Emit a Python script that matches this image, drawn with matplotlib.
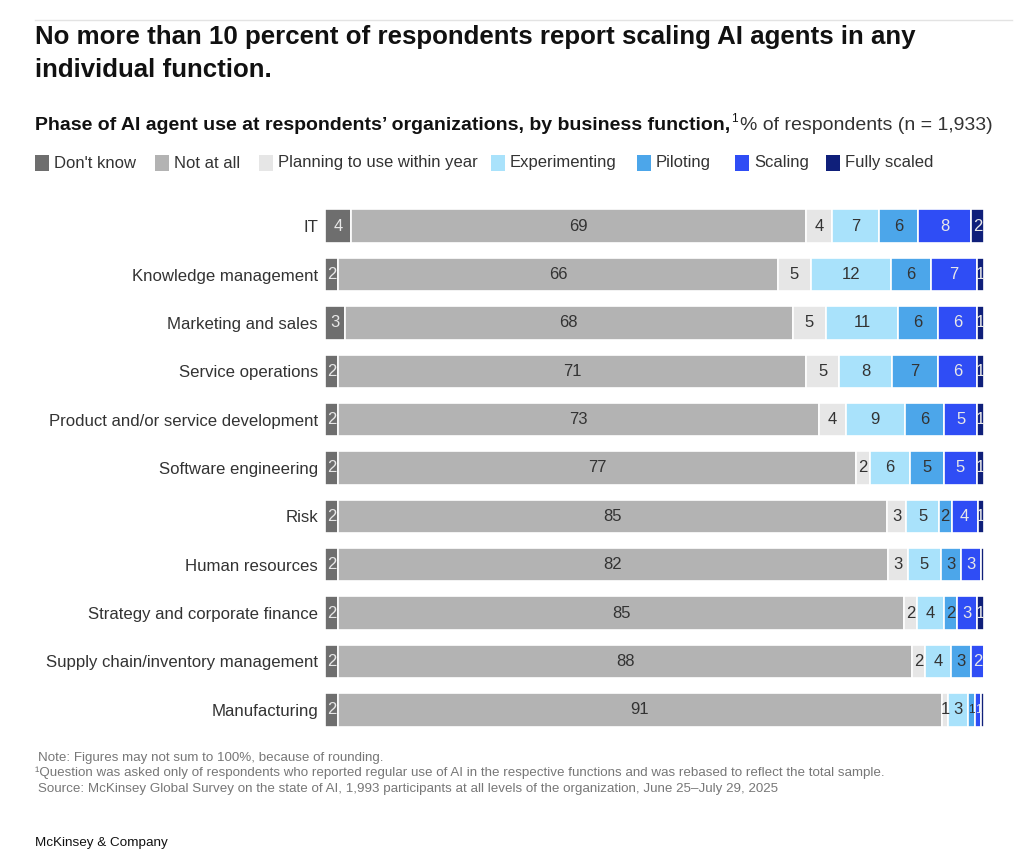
import matplotlib
matplotlib.use('Agg')
import matplotlib.pyplot as plt
from matplotlib.patches import Rectangle
from matplotlib.lines import Line2D
import numpy as np

plt.rcParams['font.family'] = ['Liberation Sans', 'DejaVu Sans']

functions = ['IT', 'Knowledge management', 'Marketing and sales', 'Service operations',
             'Product and/or service development', 'Software engineering', 'Risk',
             'Human resources', 'Strategy and corporate finance',
             'Supply chain/inventory management', 'Manufacturing']
phases = ["Don't know", 'Not at all', 'Planning to use within year', 'Experimenting',
          'Piloting', 'Scaling', 'Fully scaled']
colors = ['#6e6e6e', '#b3b3b3', '#e6e6e6', '#a9e2fb', '#4ca6ea', '#2f4df5', '#0f1f7a']
text_colors = ['#e8e8e8', '#333333', '#333333', '#333333', '#333333', '#e8e8e8', '#e8e8e8']

dont_know = [4, 2, 3, 2, 2, 2, 2, 2, 2, 2, 2]
not_at_all = [69, 66, 68, 71, 73, 77, 85, 82, 85, 88, 91]
planning = [4, 5, 5, 5, 4, 2, 3, 3, 2, 2, 1]
experimenting = [7, 12, 11, 8, 9, 6, 5, 5, 4, 4, 3]
piloting = [6, 6, 6, 7, 6, 5, 2, 3, 2, 3, 1]
scaling = [8, 7, 6, 6, 5, 5, 4, 3, 3, 2, 1]
fully_scaled = [2, 1, 1, 1, 1, 1, 1, 0.4, 1, 0, 0.4]
# thin slivers drawn without a number
unlabeled = {(7, 6), (10, 6)}

series = [dont_know, not_at_all, planning, experimenting, piloting, scaling, fully_scaled]
data = np.array(series, dtype=float)
totals = data.sum(axis=0)
shares = data / totals * 100

fig = plt.figure(figsize=(10.24, 8.61), dpi=100)
W, H = 1024, 861

def fx(px):
    return px / W

def fy(py):
    return 1 - py / H

def is_labeled(k, i):
    return data[k, i] > 0 and (i, k) not in unlabeled

def crowded(k, i):
    # two neighbouring labelled slivers would make their numbers collide
    if shares[k, i] >= 1.5:
        return False
    for n in (k - 1, k + 1):
        if 0 <= n < len(phases) and is_labeled(n, i) and shares[n, i] < 1.5:
            return True
    return False

ax = fig.add_axes([fx(325), fy(734), fx(984) - fx(325), fy(202) - fy(734)])
y = np.arange(len(functions))
left = np.zeros(len(functions))
for k in range(len(phases)):
    ax.barh(y, shares[k], left=left, height=0.69, color=colors[k],
            edgecolor='white', linewidth=1.2)
    for i in range(len(functions)):
        if not is_labeled(k, i):
            continue
        fs = 8.5 if crowded(k, i) else 12
        ax.text(left[i] + shares[k, i] / 2, y[i], '%g' % data[k, i],
                ha='center', va='center', fontsize=fs, color=text_colors[k])
    left += shares[k]

ax.set_xlim(0, 100)
ax.set_ylim(len(functions) - 0.5, -0.5)
ax.set_yticks(y)
ax.set_yticklabels(functions, fontsize=12.1, color='#333333')
ax.tick_params(axis='y', length=0, pad=5)
ax.set_xticks([])
for s in ax.spines.values():
    s.set_visible(False)

# top rule
fig.add_artist(Line2D([fx(35), fx(1012)], [fy(20), fy(20)], color='#e3e3e3', linewidth=1))

fig.text(fx(35), fy(37), 'No more than 10 percent of respondents report scaling AI agents in any',
         fontsize=18.6, fontweight='bold', va='center', color='#111111')
fig.text(fx(35), fy(70), 'individual function.',
         fontsize=18.6, fontweight='bold', va='center', color='#111111')

renderer = fig.canvas.get_renderer()
t1 = fig.text(fx(35), fy(125), 'Phase of AI agent use at respondents\u2019 organizations, by business function,',
              fontsize=14, fontweight='bold', va='center', color='#111111')
bb = t1.get_window_extent(renderer)
t2 = fig.text(bb.x1 / W + fx(1), fy(119), '1', fontsize=8.5, va='center', color='#111111')
bb2 = t2.get_window_extent(renderer)
fig.text(bb2.x1 / W + fx(2), fy(125), '% of respondents (n = 1,933)',
         fontsize=14, va='center', color='#333333')

# legend
legend_x = [35, 155, 259, 491, 637, 735, 826]
for k, name in enumerate(phases):
    fig.add_artist(Rectangle((fx(legend_x[k]), fy(171)), fx(14), fy(155) - fy(171),
                             facecolor=colors[k], edgecolor='none', transform=fig.transFigure))
    fig.text(fx(legend_x[k] + 19), fy(163), name, fontsize=12, va='center', color='#333333')

notes = ['Note: Figures may not sum to 100%, because of rounding.',
         '\u00b9Question was asked only of respondents who reported regular use of AI in the respective functions and was rebased to reflect the total sample.',
         'Source: McKinsey Global Survey on the state of AI, 1,993 participants at all levels of the organization, June 25\u2013July 29, 2025']
note_y = [758, 773, 789]
note_x = [38, 35, 38]
for txt, ny, nx in zip(notes, note_y, note_x):
    fig.text(fx(nx), fy(ny), txt, fontsize=9.6, va='center', color='#777777')

fig.text(fx(35), fy(843), 'McKinsey & Company', fontsize=9.7, va='center', color='#111111')

fig.savefig('out.png', dpi=100, facecolor='white')
